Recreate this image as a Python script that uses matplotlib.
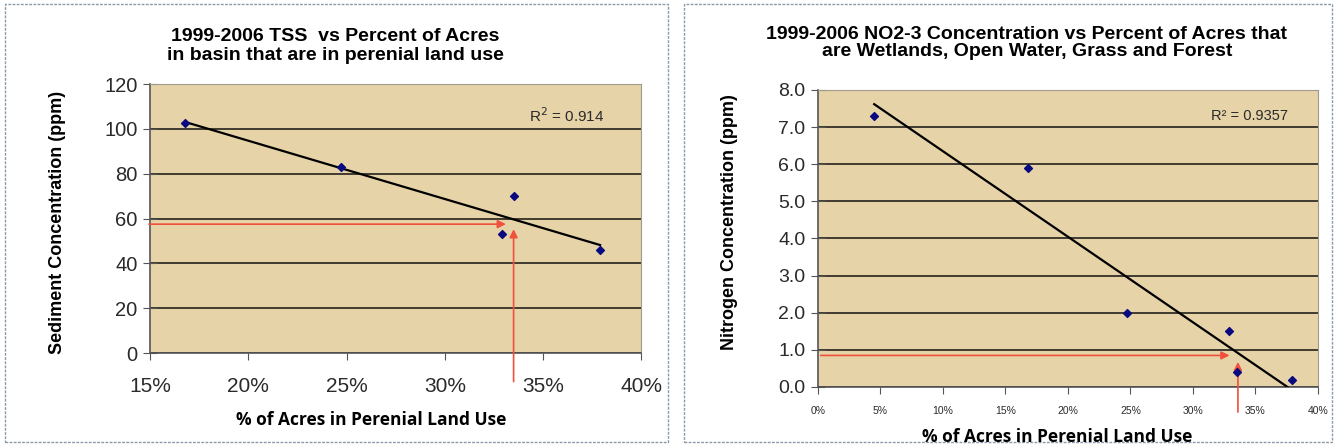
import matplotlib.pyplot as plt
import numpy as np
from matplotlib.patches import Rectangle

# left chart: TSS vs percent perennial acres
tss_pct = [16.8, 24.7, 32.9, 33.5, 37.9]
tss_ppm = [102.5, 83, 53, 70, 46]
tss_r2 = "R$^2$ = 0.914"
tss_target = (33.5, 57.5)

# right chart: NO2-3 vs percent perennial acres
no3_pct = [4.5, 16.8, 24.7, 32.9, 33.5, 37.9]
no3_ppm = [7.3, 5.9, 2.0, 1.5, 0.4, 0.2]
no3_r2 = "R² = 0.9357"
no3_target = (33.5, 0.85)

plt.rcParams['font.family'] = ['Liberation Sans', 'DejaVu Sans']

BG = '#e6d3a8'
GRID = '#403a30'
MARK = '#0a0a80'
RED = '#f0503c'
TXT = '#2a2a2a'

W, H = 1335, 446
fig = plt.figure(figsize=(13.35, 4.46), dpi=100)


def px(x, y):
    # pixel position (from top-left) -> figure fraction
    return x / W, 1 - y / H


# panel borders
fig.patches.append(Rectangle((0.004, 0.01), 0.496, 0.98, transform=fig.transFigure,
                             fill=False, ec='#8a9aa8', lw=1, ls=(0, (2, 1))))
fig.patches.append(Rectangle((0.512, 0.01), 0.486, 0.98, transform=fig.transFigure,
                             fill=False, ec='#8a9aa8', lw=1, ls=(0, (2, 1))))


def trend(ax, xs, ys, x_end=None):
    m, b = np.polyfit(xs, ys, 1)
    x0 = min(xs)
    x1 = max(xs) if x_end is None else x_end
    ax.plot([x0, x1], [m * x0 + b, m * x1 + b], color='black', lw=1.6, zorder=3)
    return m, b


def style(ax):
    ax.set_facecolor(BG)
    ax.yaxis.grid(True, color=GRID, lw=1.4)
    ax.set_axisbelow(True)
    for s in ['top', 'right']:
        ax.spines[s].set_color('#a09a90')
        ax.spines[s].set_linewidth(0.8)
    for s in ['left', 'bottom']:
        ax.spines[s].set_color('#555')
        ax.spines[s].set_linewidth(1.2)
    ax.tick_params(axis='y', direction='inout', length=10, color='#555', labelcolor=TXT)
    ax.tick_params(axis='x', direction='out', length=5, color='#555', labelcolor=TXT)


# ---- left ----
ax1 = fig.add_axes([0.1124, 0.2085, 0.368, 0.603])
style(ax1)
ax1.scatter(tss_pct, tss_ppm, marker='D', s=16, color=MARK, zorder=4)
trend(ax1, tss_pct, tss_ppm)
ax1.set_xlim(15, 40)
ax1.set_ylim(0, 120)
ax1.set_xticks(range(15, 41, 5))
ax1.set_xticklabels([f"{v}%" for v in range(15, 41, 5)], fontsize=15)
ax1.set_yticks(range(0, 121, 20))
ax1.set_yticklabels([str(v) for v in range(0, 121, 20)], fontsize=14.5)
ax1.tick_params(axis='x', pad=12)
ax1.tick_params(axis='y', pad=4)
fig.text(*px(335, 46), "1999-2006 TSS  vs Percent of Acres\nin basin that are in perenial land use",
         ha='center', va='center', fontsize=14, fontweight='bold', linespacing=1.1)
fig.text(*px(371, 420), "% of Acres in Perenial Land Use", ha='center', va='center',
         fontsize=12.5, fontweight='bold', family=['Open Sans', 'DejaVu Sans'])
fig.text(*px(58, 222), "Sediment Concentration (ppm)", ha='center', va='center', rotation=90,
         fontsize=13, fontweight='bold')
ax1.text(0.925, 0.86, tss_r2, transform=ax1.transAxes, ha='right', fontsize=11, color=TXT)
tx, ty = tss_target
ax1.annotate('', xy=(tx - 0.25, ty), xytext=(14.8, ty), annotation_clip=False,
             arrowprops=dict(arrowstyle='-|>', color=RED, lw=1.2, mutation_scale=12))
ax1.annotate('', xy=(tx, ty - 1), xytext=(tx, -14), annotation_clip=False,
             arrowprops=dict(arrowstyle='-|>', color=RED, lw=1.2, mutation_scale=12))

# ---- right ----
ax2 = fig.add_axes([0.6127, 0.1323, 0.3745, 0.666])
style(ax2)
ax2.scatter(no3_pct, no3_ppm, marker='D', s=16, color=MARK, zorder=4)
m, b = np.polyfit(no3_pct, no3_ppm, 1)
trend(ax2, no3_pct, no3_ppm, x_end=-b / m)
ax2.set_xlim(0, 40)
ax2.set_ylim(0, 8)
ax2.set_xticks(range(0, 41, 5))
ax2.set_xticklabels([f"{v}%" for v in range(0, 41, 5)], fontsize=7.5)
ax2.set_yticks(range(0, 9))
ax2.set_yticklabels([f"{v:.1f}" for v in range(0, 9)], fontsize=14)
ax2.tick_params(axis='x', pad=9)
ax2.tick_params(axis='y', pad=4)
fig.text(*px(1027, 43), "1999-2006 NO2-3 Concentration vs Percent of Acres that\nare Wetlands, Open Water, Grass and Forest",
         ha='center', va='center', fontsize=14, fontweight='bold', linespacing=1.05)
fig.text(*px(1057, 437), "% of Acres in Perenial Land Use", ha='center', va='center',
         fontsize=12.5, fontweight='bold', family=['Open Sans', 'DejaVu Sans'])
fig.text(*px(730, 222), "Nitrogen Concentration (ppm)", ha='center', va='center', rotation=90,
         fontsize=13, fontweight='bold')
ax2.text(0.94, 0.9, no3_r2, transform=ax2.transAxes, ha='right', fontsize=10.5, color=TXT)
tx, ty = no3_target
ax2.annotate('', xy=(tx - 0.35, ty), xytext=(0, ty), annotation_clip=False,
             arrowprops=dict(arrowstyle='-|>', color=RED, lw=1.2, mutation_scale=12))
ax2.annotate('', xy=(tx + 0.1, ty - 0.1), xytext=(tx + 0.1, -0.75), annotation_clip=False,
             arrowprops=dict(arrowstyle='-|>', color=RED, lw=1.2, mutation_scale=12))

fig.savefig('out.png', dpi=100)
